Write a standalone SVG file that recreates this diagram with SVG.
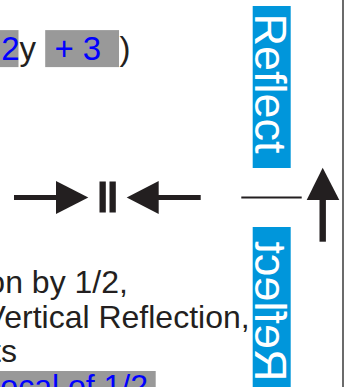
<svg xmlns="http://www.w3.org/2000/svg" width="348" height="387" viewBox="0 0 348 387">
  <style>
    .t { font-family: "Liberation Sans", Arial, sans-serif; }
    .ink { fill: #231f20; }
    .blue { fill: #0000ff; }
    .hl { fill: #999999; }
    .tag { fill: #0096db; }
    .tagtxt { fill: #ffffff; font-size: 45px; }
  </style>
  <rect width="348" height="387" fill="#ffffff"/>

  <!-- equation fragment -->
  <g id="equation" class="t" font-size="33">
    <rect class="hl" x="-2" y="30.1" width="20.5" height="37"/>
    <rect class="hl" x="45.2" y="30.1" width="73.8" height="37"/>
    <text class="blue" x="1.2" y="60">2</text>
    <text class="ink" x="19.5" y="60">y</text>
    <text class="blue" x="54.4" y="60">+ 3</text>
    <text class="ink" x="119.6" y="60">)</text>
  </g>

  <!-- caption lines -->
  <g id="caption" class="t" font-size="32" text-anchor="end">
    <text class="ink" x="127.9" y="293">on by 1/2,</text>
    <text class="ink" x="249.6" y="327.5">Vertical Reflection,</text>
    <text class="ink" x="17" y="362">ts</text>
    <rect class="hl" x="-2" y="371" width="157.7" height="20"/>
    <text class="blue" x="148" y="397">ocal of 1/2</text>
  </g>

  <!-- vertical tag above the axis -->
  <g id="reflect-top" class="t">
    <rect class="tag" x="252.7" y="6" width="38" height="162"/>
    <text class="tagtxt" transform="rotate(90)" x="13.5" y="-255">Reflect</text>
  </g>

  <!-- mirror image of the tag below the axis -->
  <g id="reflect-mirror" class="t" transform="translate(0 395) scale(1 -1)">
    <rect class="tag" x="252.7" y="6" width="38" height="162"/>
    <text class="tagtxt" transform="rotate(90)" x="13.5" y="-255">Reflect</text>
  </g>

  <!-- right frame edge -->
  <line x1="343" y1="0" x2="343" y2="387" stroke="#3a3a3a" stroke-width="1.5"/>

  <g id="connectors" class="ink">
    <!-- arrow pointing right into the equals bars -->
    <rect x="14" y="195" width="44" height="5"/>
    <polygon points="56,181 88.3,197.5 56,214"/>
    <!-- parallel bars -->
    <rect x="99.5" y="181.5" width="6.3" height="31"/>
    <rect x="109.5" y="181.5" width="6.3" height="31"/>
    <!-- arrow pointing left into the equals bars -->
    <polygon points="126.7,197.5 158.7,181 158.7,214"/>
    <rect x="157" y="195" width="43.7" height="5"/>
    <!-- reflection axis -->
    <rect x="241.3" y="196.5" width="60.4" height="2"/>
    <!-- upward arrow -->
    <polygon points="322.7,167.7 306.7,200 339.3,200"/>
    <rect x="319.5" y="199" width="6.4" height="42.7"/>
  </g>
</svg>
